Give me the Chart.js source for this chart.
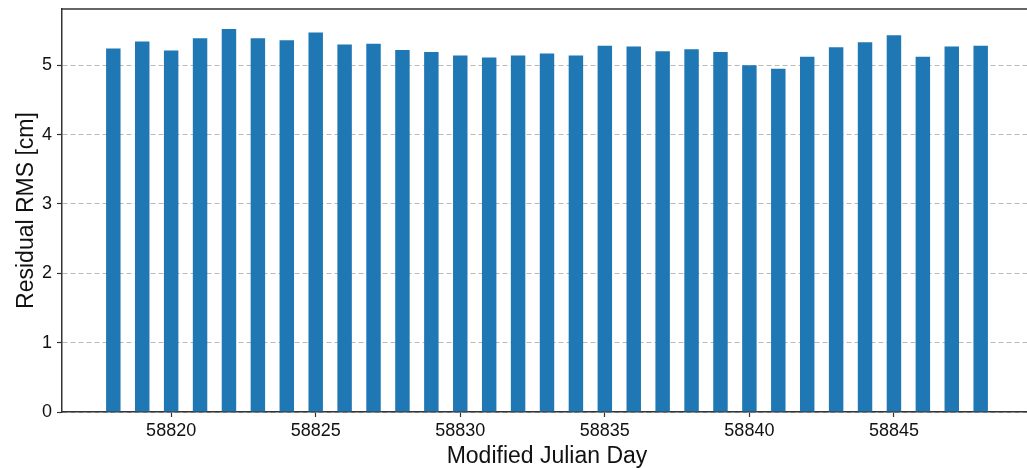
<!DOCTYPE html>
<html>
<head>
<meta charset="utf-8">
<script src="https://cdn.jsdelivr.net/npm/chart.js@4.4.1/dist/chart.umd.min.js"></script>
<style>
  html, body { margin: 0; padding: 0; background: #fff; overflow: hidden; }
  .chart-wrapper { position: relative; width: 1040px; height: 468px; }
</style>
</head>
<body>
<div class="chart-wrapper"><canvas id="rms-chart"></canvas></div>
<script>
const days = [
  58818, 58819, 58820, 58821, 58822, 58823, 58824, 58825, 58826, 58827,
  58828, 58829, 58830, 58831, 58832, 58833, 58834, 58835, 58836, 58837,
  58838, 58839, 58840, 58841, 58842, 58843, 58844, 58845, 58846, 58847,
  58848
];
const rms = [
  5.24, 5.34, 5.21, 5.39, 5.52, 5.39, 5.36, 5.47, 5.30, 5.31,
  5.22, 5.19, 5.14, 5.11, 5.14, 5.17, 5.14, 5.28, 5.27, 5.20,
  5.23, 5.19, 5.00, 4.95, 5.12, 5.26, 5.33, 5.43, 5.12, 5.27,
  5.28
];
const xTicks = [58820, 58825, 58830, 58835, 58840, 58845];
const yTicks = [0, 1, 2, 3, 4, 5];

const axisColor = "#333333";
const textColor = "#111111";
const fontFamily = "'Liberation Sans', Arial, Helvetica, sans-serif";

// matplotlib style top spine (right spine falls outside the window)
const topSpine = {
  id: "topSpine",
  afterDraw(chart) {
    const { ctx, chartArea } = chart;
    ctx.save();
    ctx.strokeStyle = axisColor;
    ctx.lineWidth = 1.5;
    ctx.beginPath();
    ctx.moveTo(chartArea.left, chartArea.top);
    ctx.lineTo(chartArea.right, chartArea.top);
    ctx.stroke();
    ctx.restore();
  }
};

const canvas = document.querySelector("#rms-chart");
new Chart(canvas, {
  type: "bar",
  data: {
    datasets: [{
      data: days.map((d, i) => ({ x: d, y: rms[i] })),
      backgroundColor: "#1f77b4",
      borderWidth: 0,
      barPercentage: 0.5,
      categoryPercentage: 1.0
    }]
  },
  options: {
    responsive: true,
    maintainAspectRatio: false,
    animation: false,
    layout: { padding: { left: 9, right: 8, top: 9, bottom: 0 } },
    plugins: { legend: { display: false }, tooltip: { enabled: false } },
    scales: {
      x: {
        type: "linear",
        min: 58816.225,
        max: 58849.775,
        offset: false,
        z: 1,
        afterBuildTicks: (scale) => { scale.ticks = xTicks.map((v) => ({ value: v })); },
        afterFit: (scale) => {
          scale.height = 56;
          scale.paddingLeft = 0;
          scale.paddingRight = 0;
        },
        grid: {
          offset: false,
          drawOnChartArea: false,
          drawTicks: true,
          tickLength: 5,
          tickColor: axisColor,
          tickWidth: 1.2
        },
        border: { display: true, color: axisColor, width: 1.5 },
        ticks: {
          padding: 3,
          color: textColor,
          font: { family: fontFamily, size: 18, lineHeight: 1.2 },
          callback: (v) => String(v)
        },
        title: {
          display: true,
          text: "Modified Julian Day",
          color: textColor,
          padding: 0,
          font: { family: fontFamily, size: 23, lineHeight: 1.0 }
        }
      },
      y: {
        min: 0,
        max: 5.81,
        afterBuildTicks: (scale) => { scale.ticks = yTicks.map((v) => ({ value: v })); },
        afterFit: (scale) => {
          scale.width = 53;
          scale.paddingTop = 0;
          scale.paddingBottom = 0;
        },
        grid: {
          color: "#b8b8b8",
          lineWidth: 1,
          drawTicks: true,
          tickLength: 5,
          tickColor: axisColor,
          tickWidth: 1.2
        },
        border: { display: true, color: axisColor, width: 1.5, dash: [5, 3] },
        ticks: {
          padding: 5,
          color: textColor,
          font: { family: fontFamily, size: 18, lineHeight: 1.2 },
          callback: (v) => String(v)
        },
        title: {
          display: true,
          text: "Residual RMS [cm]",
          color: textColor,
          padding: { top: 4, bottom: 4 },
          font: { family: fontFamily, size: 23, lineHeight: 1.2 }
        }
      }
    }
  },
  plugins: [topSpine]
});
</script>
</body>
</html>
